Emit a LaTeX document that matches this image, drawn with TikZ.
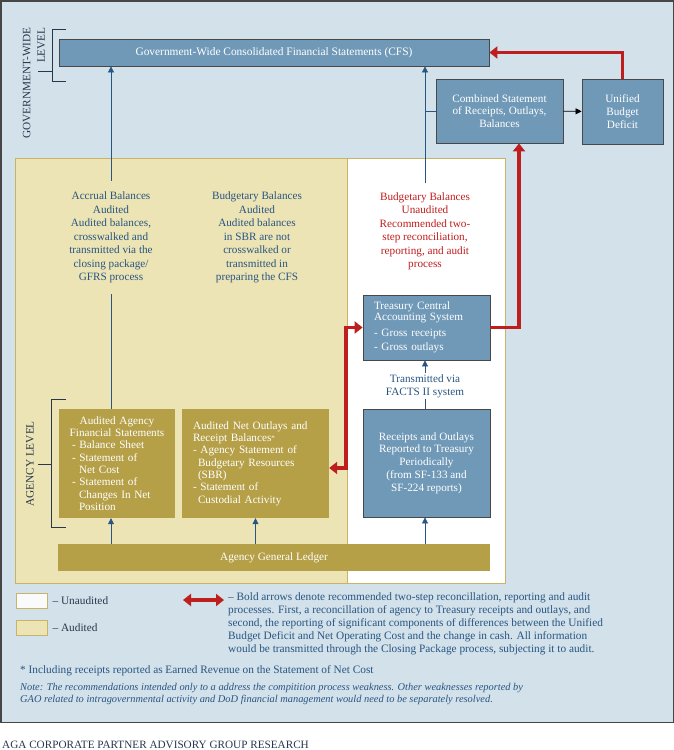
\documentclass[tikz,border=0pt]{standalone}
\usepackage{fontspec}
\setmainfont{Liberation Serif}
\definecolor{PanelBlue}{RGB}{210,225,234}
\definecolor{FrameGray}{RGB}{70,70,70}
\definecolor{BoxBlue}{RGB}{112,153,184}
\definecolor{BoxEdge}{RGB}{72,72,72}
\definecolor{AgencyGold}{RGB}{181,160,72}
\definecolor{AuditYellow}{RGB}{236,228,180}
\definecolor{AuditTan}{RGB}{200,180,100}
\definecolor{ReconRed}{RGB}{190,30,30}
\definecolor{FlowNavy}{RGB}{40,85,130}
\definecolor{InkSlate}{RGB}{40,55,75}
\usetikzlibrary{arrows.meta,positioning,calc}

\begin{document}
\begin{tikzpicture}[x=1pt,y=-1pt,
  bluebox/.style={draw=BoxEdge,fill=BoxBlue,text=white,line width=0.8pt,inner sep=0pt,
    font=\fontsize{11.2}{12.8}\selectfont},
  goldbox/.style={fill=AgencyGold,text=white,inner sep=0pt,font=\fontsize{11.2}{12.3}\selectfont},
  flowtext/.style={text=FlowNavy,align=center,inner xsep=0pt,font=\fontsize{11.2}{13.5}\selectfont},
  flowline/.style={FlowNavy,line width=0.7pt},
  flowarrow/.style={flowline,-{Triangle[length=6pt,width=6pt]}},
  reconline/.style={ReconRed,line width=3.5pt},
  reconone/.style={reconline,-{Triangle[length=8pt,width=12pt]}},
  recontwo/.style={reconline,{Triangle[length=8pt,width=12pt]}-{Triangle[length=8pt,width=12pt]}},
  bracket/.style={InkSlate,line width=0.8pt},
  levellabel/.style={rotate=90,text=InkSlate,inner sep=0pt,font=\fontsize{11.3}{14.5}\selectfont},
  legbox/.style={draw=AuditTan,line width=0.8pt,minimum width=31pt,minimum height=15pt,inner sep=0pt},
  legtext/.style={text=InkSlate,inner sep=0pt,font=\fontsize{11.3}{13}\selectfont}]
\useasboundingbox (0,0) rectangle (674,750);
\draw[FrameGray,fill=PanelBlue,line width=1.5pt] (0.75,0.75) rectangle (673.25,722.5);
\draw[AuditTan,fill=AuditYellow,line width=0.8pt] (15,158) rectangle (347,583);
\draw[AuditTan,fill=white,line width=0.8pt] (347,158) rectangle (505,583);

\node[bluebox,minimum width=430pt,minimum height=27pt,font=\fontsize{11.4}{12.5}\selectfont] (cfs) at (274,52.5)
  {Government-Wide Consolidated Financial Statements (CFS)};
\node[bluebox,minimum width=127pt,minimum height=64pt,align=center] (comb) at (499.5,111)
  {Combined Statement\\of Receipts, Outlays,\\Balances};
\node[bluebox,minimum width=81pt,minimum height=65pt,align=center] (ubd) at (622.5,111.5)
  {Unified\\Budget\\Deficit};
\node[bluebox,text width=105pt,inner xsep=11pt,minimum height=65pt,align=left,
  font=\fontsize{11.2}{11.5}\selectfont] (tcas) at (426.5,327.5)
  {Treasury Central\\Accounting System\\[4pt]- Gross receipts\\[3pt]- Gross outlays};
\node[bluebox,minimum width=127pt,minimum height=108pt,align=center] (rop) at (426.5,463)
  {Receipts and Outlays\\Reported to Treasury\\Periodically\\(from SF-133 and\\SF-224 reports)};
\node[goldbox,text width=106pt,inner xsep=5pt,minimum height=109pt] (aafs) at (117,463.5)
  {\centering Audited Agency\\Financial Statements\par\raggedright
   \hspace*{8pt}- Balance Sheet\\\hspace*{8pt}- Statement of\\\hspace*{15pt}Net Cost\\
   \hspace*{8pt}- Statement of\\\hspace*{15pt}Changes In Net\\\hspace*{15pt}Position\par};
\node[goldbox,text width=125pt,inner xsep=11pt,minimum height=109pt,align=left] (anor) at (255.5,463.5)
  {Audited Net Outlays and\\Receipt Balances\raisebox{1pt}{\fontsize{7}{7}\selectfont *}\\- Agency Statement of\\\hspace*{5pt}Budgetary Resources\\
   \hspace*{5pt}(SBR)\\- Statement of\\\hspace*{5pt}Custodial Activity};
\node[goldbox,minimum width=432pt,minimum height=27pt] (agl) at (274,557.5) {Agency General Ledger};

\node[flowtext,inner ysep=11pt] (accr) at (111,237.5)
  {Accrual Balances\\Audited\\Audited balances,\\crosswalked and\\transmitted via the\\closing package/\\GFRS process};
\node[flowtext] (budg) at (257,237.5)
  {Budgetary Balances\\Audited\\Audited balances\\in SBR are not\\crosswalked or\\transmitted in\\preparing the CFS};
\node[flowtext,text=ReconRed,inner ysep=9pt] (unaud) at (425,231.5)
  {Budgetary Balances\\Unaudited\\Recommended two-\\step reconciliation,\\reporting, and audit\\process};
\node[flowtext,inner ysep=1pt,font=\fontsize{11.2}{13}\selectfont] (facts) at (425,386)
  {Transmitted via\\FACTS II system};

\draw[flowarrow] (accr.north) -- (cfs.south -| accr.north);
\draw[flowline] (accr.south) -- (aafs.north -| accr.south);
\draw[flowarrow] (unaud.north) -- (cfs.south -| unaud.north);
\draw[flowline] (comb.west) -- (comb.west -| unaud.north);
\draw[flowarrow] (facts.north) -- (tcas.south -| facts.north);
\draw[flowline] (facts.south) -- (rop.north -| facts.south);
\draw[flowarrow] (agl.north -| accr.south) -- (aafs.south -| accr.south);
\draw[flowarrow] (agl.north -| anor.south) -- (anor.south);
\draw[flowarrow] (agl.north -| facts.south) -- (rop.south -| facts.south);
\draw[line width=0.7pt,-{Triangle[length=6pt,width=6pt]}] (comb) -- (ubd);

\coordinate (tcasout) at (519,327.5);
\coordinate (tcasin) at (346,327.5);
\draw[reconone] (ubd.north) |- (cfs.east);
\draw[reconone] (tcas.east) -- (tcasout) -- (tcasout |- comb.south);
\draw[recontwo] ([yshift=-4.5pt]anor.east) -| (tcasin) -- (tcas.west);

\draw[bracket] (66,29) -- (52,29) -- (52,81) -- (66,81) (38,71) -- (52,71);
\node[levellabel,anchor=east,align=right] (gwlevel) at (34,27) {GOVERNMENT-WIDE\\LEVEL};
\draw[bracket] (66,399) -- (51,399) -- (51,527) -- (66,527) (38,464) -- (51,464);
\node[levellabel] (aglevel) at (30,464) {AGENCY LEVEL};

\node[legbox,fill=white!96!gray] (legun) at (31.5,600.5) {};
\node[legtext,right=5pt of legun] (legunt) {-- Unaudited};
\node[legbox,fill=AuditYellow] (legau) at (31.5,628) {};
\node[legtext,right=5pt of legau] (legaut) {-- Audited};
\coordinate (legl) at (183,600);
\coordinate (legr) at (224,600);
\draw[recontwo] (legl) -- (legr);
\node[legtext,text=FlowNavy,anchor=north west,align=left] (legnote) at (228,592)
  {-- Bold arrows denote recommended two-step reconcillation, reporting and audit\\
   processes. First, a reconcillation of agency to Treasury receipts and outlays, and\\
   second, the reporting of significant components of differences between the Unified\\
   Budget Deficit and Net Operating Cost and the change in cash. All information\\
   would be transmitted through the Closing Package process, subjecting it to audit.};
\node[legtext,text=FlowNavy,anchor=west] (footnote) at (20,671)
  {* Including receipts reported as Earned Revenue on the Statement of Net Cost};
\node[legtext,text=FlowNavy,anchor=north west,align=left,font=\itshape\fontsize{10.4}{12.5}\selectfont] (note) at (20,683)
  {Note: The recommendations intended only to a address the compitition process weakness. Other weaknesses reported by\\
   GAO related to intragovernmental activity and DoD financial management would need to be separately resolved.};
\node[legtext,anchor=west,font=\fontsize{11.2}{12}\selectfont] (aga) at (2,745)
  {AGA CORPORATE PARTNER ADVISORY GROUP RESEARCH};
\end{tikzpicture}
\end{document}
